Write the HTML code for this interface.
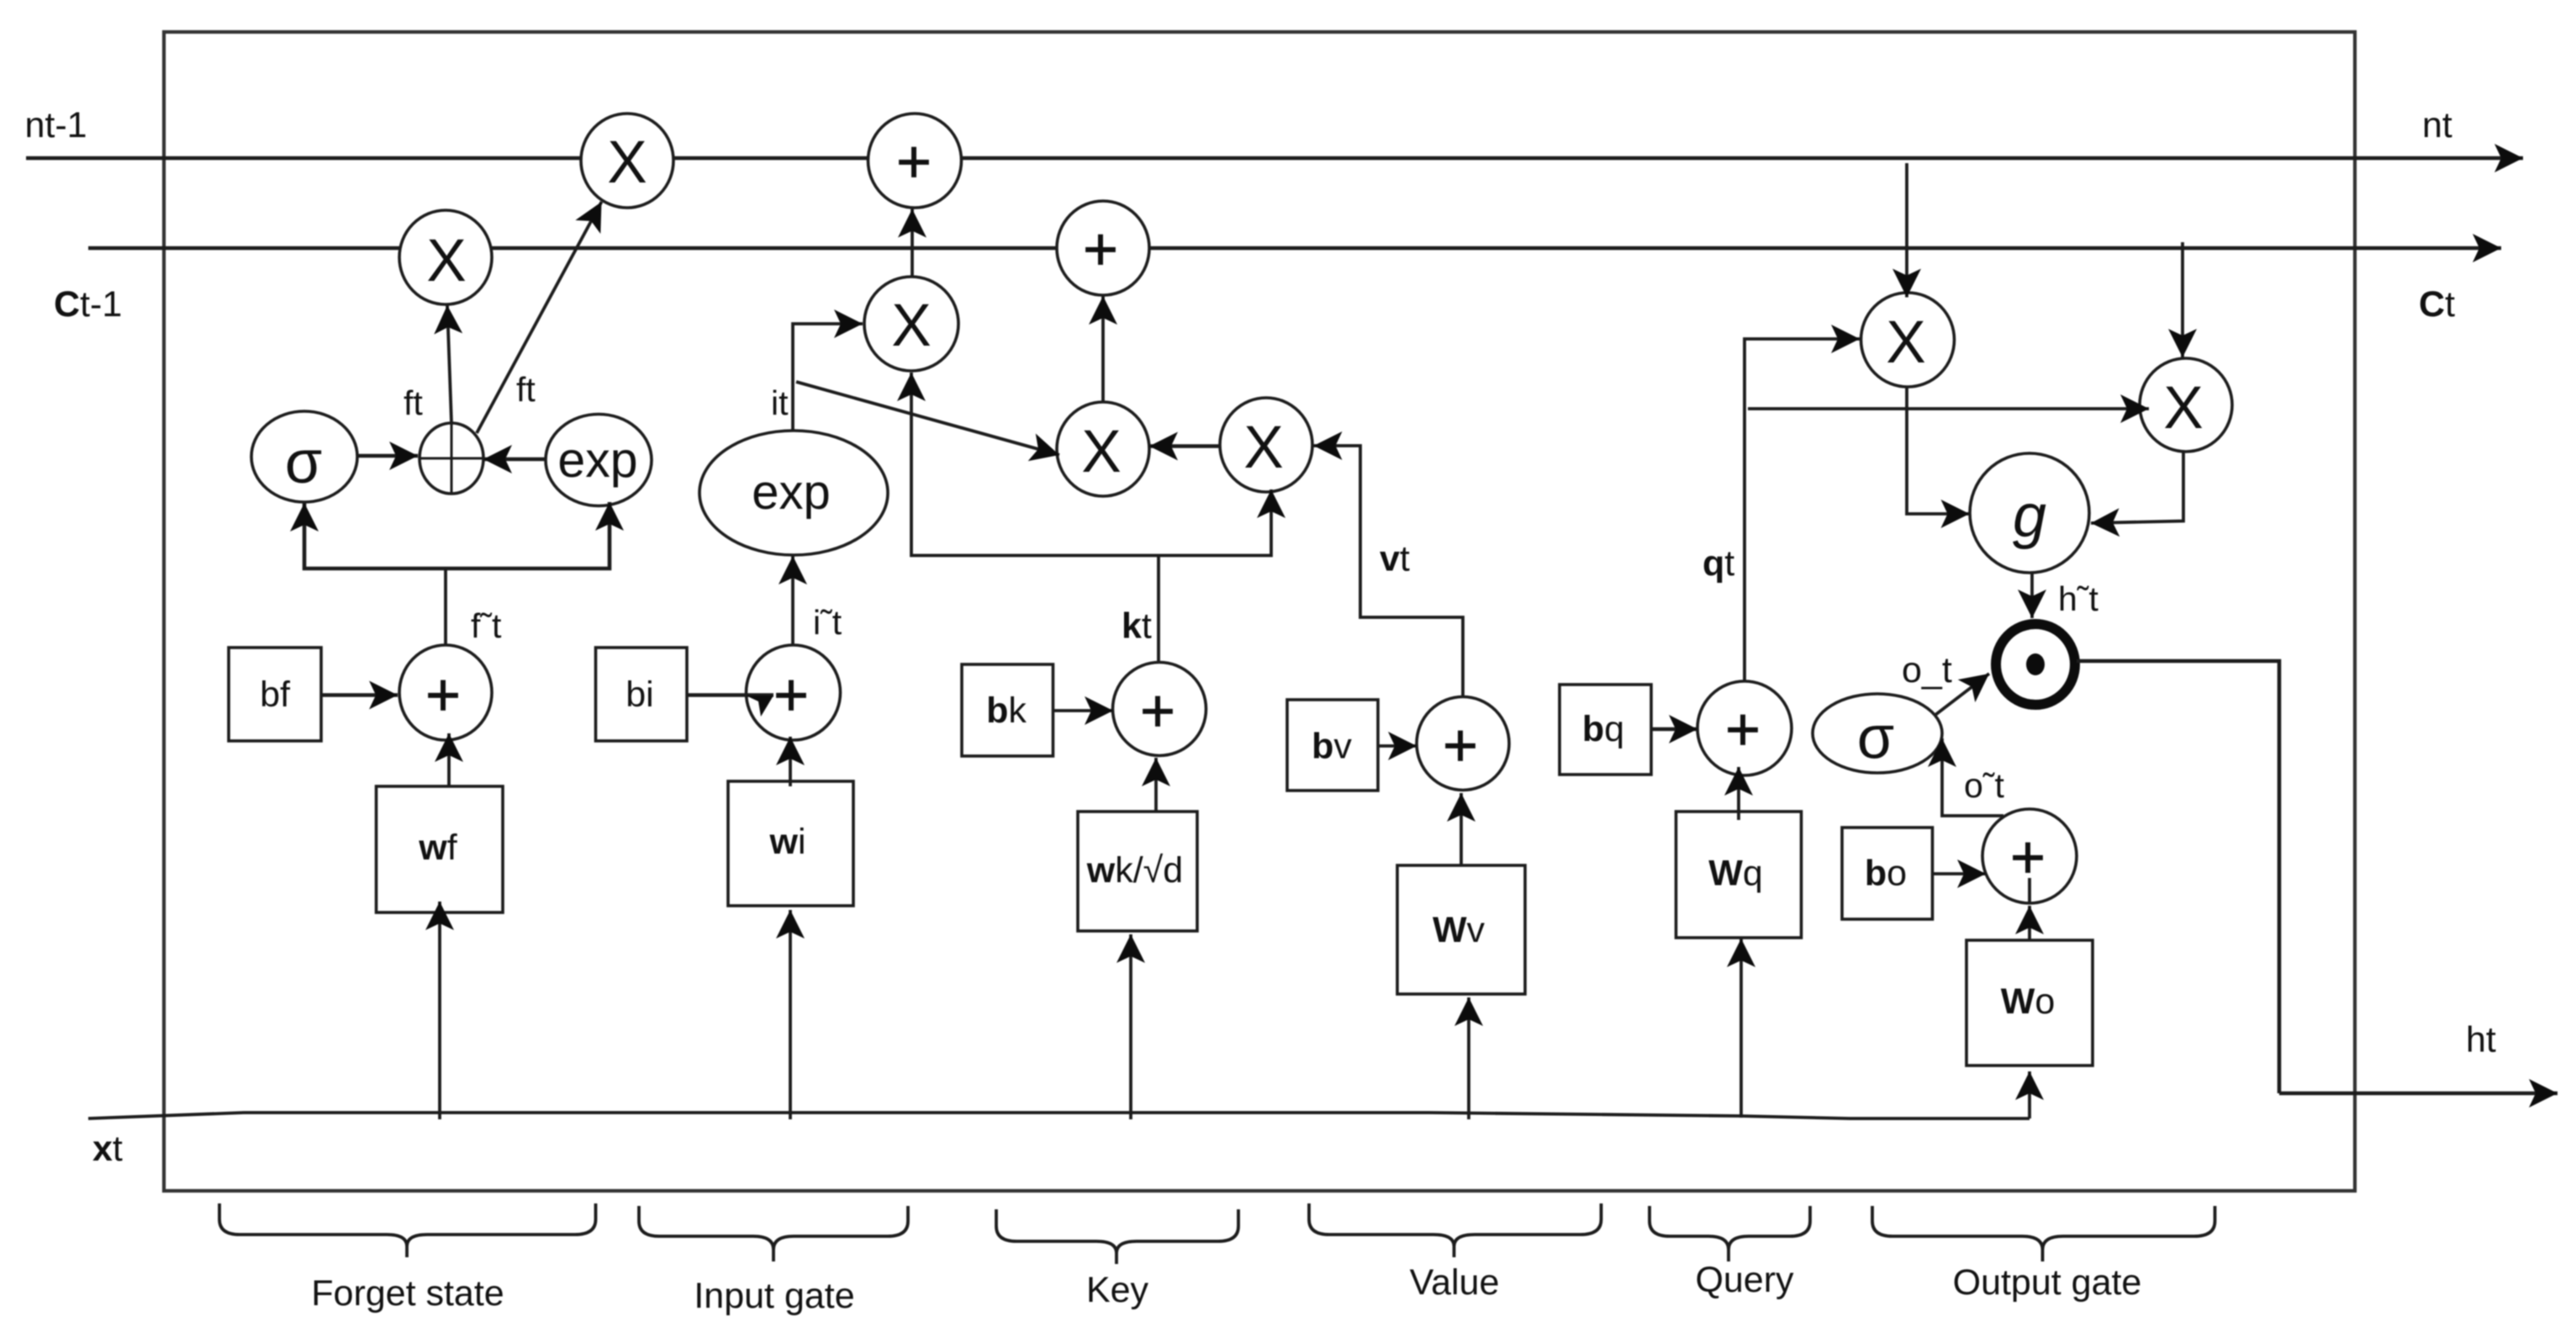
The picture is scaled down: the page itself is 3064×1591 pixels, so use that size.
<!DOCTYPE html>
<html>
<head>
<meta charset="utf-8">
<style>
html,body{margin:0;padding:0;background:#fff;width:3064px;height:1591px;overflow:hidden}
svg{display:block;filter:blur(.9px)}
text{font-family:"Liberation Sans",Arial,sans-serif;fill:#111;font-size:43px}
.m{text-anchor:middle}
.b{font-weight:bold}
.l{font-size:41px}
.X{font-size:71px;text-anchor:middle}
.P{font-size:72px;text-anchor:middle;stroke:#111;stroke-width:.8}
.s{fill:#fff;stroke:#1c1c1c;stroke-width:3.6}
.c{fill:none;stroke:#1c1c1c;stroke-width:3.8}
.t{fill:none;stroke:#1c1c1c;stroke-width:4.6}
.a{marker-end:url(#h)}
</style>
</head>
<body>
<svg width="3064" height="1591" viewBox="0 0 3064 1591" xmlns="http://www.w3.org/2000/svg">
<defs>
<marker id="h" markerUnits="userSpaceOnUse" markerWidth="36" markerHeight="36" refX="34" refY="17" orient="auto">
<path d="M0,0 L34,17 L0,34 L8,17 Z" fill="#0c0c0c"/>
</marker>
</defs>
<rect width="3064" height="1591" fill="#fff"/>

<!-- frame -->
<rect x="195" y="38" width="2606" height="1378" fill="none" stroke="#333" stroke-width="4.2"/>

<!-- main lines -->
<path class="t a" d="M31,188 H3001"/>
<path class="t a" d="M105,295 H2975"/>

<!-- nodes -->
<ellipse class="s" cx="746" cy="191" rx="55" ry="56"/>
<ellipse class="s" cx="530" cy="306" rx="55" ry="56"/>
<ellipse class="s" cx="1088" cy="191" rx="55.5" ry="56"/>
<ellipse class="s" cx="1312" cy="295" rx="55" ry="56"/>
<ellipse class="s" cx="1084" cy="385" rx="56" ry="56"/>
<ellipse class="s" cx="1312" cy="534" rx="55" ry="56"/>
<ellipse class="s" cx="1506" cy="529" rx="55" ry="56"/>
<ellipse class="s" cx="362" cy="543" rx="63" ry="54"/>
<ellipse class="s" cx="537" cy="545" rx="38" ry="42"/>
<ellipse class="s" cx="712" cy="547" rx="63" ry="54.5"/>
<ellipse class="s" cx="944" cy="586" rx="112" ry="74"/>
<ellipse class="s" cx="530" cy="823.5" rx="55" ry="56.5"/>
<ellipse class="s" cx="943.5" cy="823.5" rx="56" ry="56.5"/>
<ellipse class="s" cx="1379" cy="843" rx="55.5" ry="55.5"/>
<ellipse class="s" cx="1740" cy="884" rx="55" ry="55.5"/>
<ellipse class="s" cx="2075" cy="866" rx="56" ry="56"/>
<ellipse class="s" cx="2233" cy="872" rx="77" ry="47"/>
<ellipse class="s" cx="2414" cy="1018" rx="56" ry="56"/>
<ellipse class="s" cx="2269" cy="404" rx="55.5" ry="56"/>
<ellipse class="s" cx="2600" cy="481.5" rx="55" ry="55.5"/>
<ellipse class="s" cx="2414" cy="610" rx="71" ry="71"/>
<ellipse cx="2421" cy="790" rx="47" ry="48" fill="#fff" stroke="#0c0c0c" stroke-width="12"/>
<ellipse cx="2421" cy="790" rx="11" ry="13" fill="#0c0c0c"/>

<!-- rects -->
<rect class="s" x="272" y="770" width="110" height="111"/>
<rect class="s" x="708.5" y="770" width="108.5" height="111"/>
<rect class="s" x="447.5" y="935" width="150.5" height="150"/>
<rect class="s" x="866" y="929" width="149" height="148"/>
<rect class="s" x="1144" y="790" width="108.5" height="109"/>
<rect class="s" x="1282" y="965" width="142" height="142"/>
<rect class="s" x="1531" y="832" width="108" height="108"/>
<rect class="s" x="1662" y="1029" width="152" height="153"/>
<rect class="s" x="1855" y="814" width="109" height="107"/>
<rect class="s" x="1993.5" y="965" width="149" height="150"/>
<rect class="s" x="2191" y="984" width="107.5" height="109"/>
<rect class="s" x="2339" y="1118" width="150" height="149"/>

<!-- connectors -->
<path class="c" d="M105,1330 L290,1323 H1700 L2071,1327 L2200,1330 H2414"/>
<path class="c a" d="M2414,1330 V1274"/>
<path class="c a" d="M523,1331 V1072"/>
<path class="c a" d="M940,1331 V1082"/>
<path class="c a" d="M1345,1331 V1111"/>
<path class="c a" d="M1747,1331 V1186"/>
<path class="c a" d="M2071,1329 V1116"/>
<path class="c a" d="M534,935 V872"/>
<path class="c a" d="M940,935 V876"/>
<path class="c a" d="M1375,965 V901"/>
<path class="c a" d="M1738,1029 V943"/>
<path class="c a" d="M2068,975 V912"/>
<path class="c" d="M2414,1044 V1074"/>
<path class="c a" d="M2414,1118 V1077"/>
<path class="t a" d="M382,826.5 H473"/>
<path class="t" d="M817,826.5 H920"/>
<path d="M887,827 L920,827 L905,852 L902,834 Z" fill="#0c0c0c"/>
<path class="c a" d="M1252,845 H1324"/>
<path class="c a" d="M1639,887 H1685"/>
<path class="t a" d="M1964,867 H2019"/>
<path class="c a" d="M2298.5,1039 H2362"/>

<path class="c" d="M530,767 V676"/>
<path class="t a" d="M530,676 H362 V598"/>
<path class="t a" d="M530,676 H725 V597"/>
<path class="t a" d="M425,542 H497"/>
<path class="t a" d="M649,546 H575"/>
<path d="M499.5,545 H575 M537,503 V587" fill="none" stroke="#1c1c1c" stroke-width="3"/>
<path class="c a" d="M537,503 L532,363"/>
<path class="c a" d="M567,515 L715.5,240"/>

<path class="c a" d="M943,767 V661"/>
<path class="c a" d="M943,512 V385 H1026"/>
<path class="c a" d="M947,454 L1260,541"/>
<path class="c a" d="M1085,329 V248.5"/>
<path class="c a" d="M1378,660.5 H1084 V443"/>
<path class="c a" d="M1378,660.5 H1512 V582"/>
<path class="c" d="M1378,660.5 V788"/>
<path class="c a" d="M1312,478 V352"/>
<path class="t a" d="M1450,530.5 H1367"/>
<path class="c a" d="M1740,828 V734 H1618 V530 H1562.5"/>

<path class="c a" d="M2075,810 V403 H2212"/>
<path class="c a" d="M2079,486 H2556"/>
<path class="c a" d="M2268,194 V353.5"/>
<path class="c a" d="M2596,288 V425"/>
<path class="c a" d="M2268,460 V611 H2342.5"/>
<path class="c a" d="M2597,537 V619.5 L2487,622"/>
<path class="c a" d="M2417,682 V735"/>
<path class="c a" d="M2302,850 L2366,801"/>
<path class="c a" d="M2383,970 H2310 V878"/>
<path class="t" d="M2470,786 H2711 V1300"/>
<path class="t a" d="M2711,1300 H3042"/>

<!-- braces -->
<path class="c" d="M261,1431 V1450 Q261,1468 285,1468 H460 Q484,1468 484,1482 V1495 M484,1482 Q484,1468 508,1468 H684 Q708.5,1468 708.5,1450 V1431"/>
<path class="c" d="M760,1434 V1452 Q760,1470 784,1470 H896 Q920,1470 920,1486 V1500 M920,1486 Q920,1470 944,1470 H1056 Q1080,1470 1080,1452 V1434"/>
<path class="c" d="M1185,1438 V1458 Q1185,1476 1209,1476 H1304 Q1328,1476 1328,1490 V1503 M1328,1490 Q1328,1476 1352,1476 H1449 Q1473,1476 1473,1458 V1438"/>
<path class="c" d="M1557,1431 V1450 Q1557,1468 1581,1468 H1705 Q1729.5,1468 1729.5,1482 V1495 M1729.5,1482 Q1729.5,1468 1754,1468 H1880 Q1904.5,1468 1904.5,1450 V1431"/>
<path class="c" d="M1962,1434 V1452 Q1962,1470 1986,1470 H2032 Q2056,1470 2056,1486 V1500 M2056,1486 Q2056,1470 2080,1470 H2129 Q2153,1470 2153,1452 V1434"/>
<path class="c" d="M2227,1434 V1452 Q2227,1470 2251,1470 H2405 Q2429.5,1470 2429.5,1486 V1500 M2429.5,1486 Q2429.5,1470 2454,1470 H2610 Q2634.5,1470 2634.5,1452 V1434"/>

<!-- node glyphs -->
<text class="X" x="746" y="217">X</text>
<text class="X" x="531" y="334">X</text>
<text class="X" x="1084" y="411">X</text>
<text class="X" x="1310" y="561">X</text>
<text class="X" x="1503" y="556">X</text>
<text class="X" x="2267" y="431">X</text>
<text class="X" x="2597" y="509">X</text>
<text class="P" x="1087" y="217">+</text>
<text class="P" x="1309" y="321">+</text>
<text class="P" x="527" y="851">+</text>
<text class="P" x="941" y="851">+</text>
<text class="P" x="1377" y="870">+</text>
<text class="P" x="1737" y="911">+</text>
<text class="P" x="2073" y="892">+</text>
<text class="P" x="2412" y="1044">+</text>
<text class="m" style="font-size:72px" x="361" y="574">σ</text>
<text class="m" style="font-size:72px" x="2231" y="901.5">σ</text>
<text class="m" style="font-size:59px" x="711" y="567">exp</text>
<text class="m" style="font-size:58px" x="941" y="605">exp</text>
<text class="m" style="font-size:72px;font-style:italic" x="2414" y="638">g</text>

<!-- box labels -->
<text class="m" x="327" y="840">bf</text>
<text class="m" x="761" y="840">bi</text>
<text class="m" x="521" y="1022"><tspan class="b">w</tspan>f</text>
<text class="m" x="937" y="1015"><tspan class="b">w</tspan>i</text>
<text class="m" x="1350" y="1049"><tspan class="b">w</tspan>k/√d</text>
<text class="m" x="1197" y="859"><tspan class="b">b</tspan>k</text>
<text class="m" x="1584" y="901.5"><tspan class="b">b</tspan>v</text>
<text class="m" x="1907" y="881"><tspan class="b">b</tspan>q</text>
<text class="m" x="1735" y="1120"><tspan class="b">W</tspan>v</text>
<text class="m" x="2064.5" y="1052.6"><tspan class="b">W</tspan>q</text>
<text class="m" x="2243" y="1052.6"><tspan class="b">b</tspan>o</text>
<text class="m" x="2412" y="1205"><tspan class="b">W</tspan>o</text>

<!-- edge labels -->
<text x="29.5" y="163">nt-1</text>
<text x="2881" y="163">nt</text>
<text x="64" y="376"><tspan class="b">C</tspan>t-1</text>
<text x="2877" y="376"><tspan class="b">C</tspan>t</text>
<text class="l" x="480" y="493">ft</text>
<text class="l" x="614" y="477">ft</text>
<text class="l" x="917" y="493">it</text>
<text class="l" x="560" y="758">f˜t</text>
<text class="l" x="967" y="754">i˜t</text>
<text class="l" x="2448" y="726">h˜t</text>
<text class="l" x="2336" y="948">o˜t</text>
<text x="2262" y="811">o_t</text>
<text x="1334" y="758.5"><tspan class="b">k</tspan>t</text>
<text x="1641" y="678.5"><tspan class="b">v</tspan>t</text>
<text x="2025" y="684"><tspan class="b">q</tspan>t</text>
<text x="110" y="1380"><tspan class="b">x</tspan>t</text>
<text x="2933" y="1250.5">ht</text>

<!-- group labels -->
<text class="m" x="485" y="1552">Forget state</text>
<text class="m" x="921" y="1555">Input gate</text>
<text class="m" x="1329" y="1548">Key</text>
<text class="m" x="1730" y="1539">Value</text>
<text class="m" x="2075" y="1536">Query</text>
<text class="m" x="2435" y="1539">Output gate</text>
</svg>
</body>
</html>
